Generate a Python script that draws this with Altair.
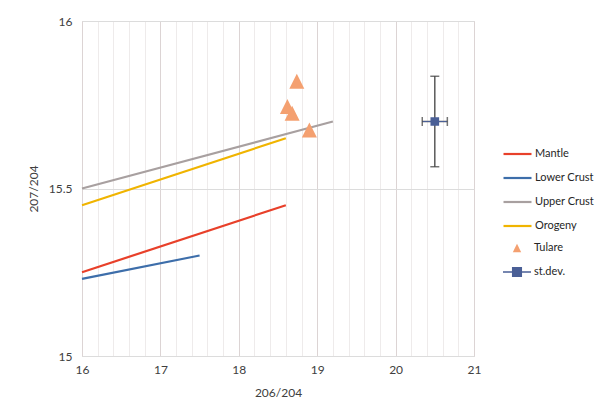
import altair as alt
import pandas as pd

# ---- data ----
line_series = ["Mantle", "Lower Crust", "Upper Crust", "Orogeny"]
line_colors = ["#e8402a", "#3d6eaa", "#a8a0a0", "#f0b400"]
line_x_start = [16.0, 16.0, 16.0, 16.0]
line_y_start = [15.25, 15.23, 15.50, 15.45]
line_x_end = [18.60, 17.50, 19.20, 18.60]
line_y_end = [15.45, 15.30, 15.70, 15.65]

tulare_x = [18.74, 18.62, 18.68, 18.90]
tulare_y = [15.82, 15.745, 15.725, 15.675]

stdev_x = [20.50]
stdev_y = [15.70]
stdev_xerr = [0.16]
stdev_yerr = [0.135]

point_series = ["Tulare", "st.dev."]
point_colors = ["#f4a070", "#4a5f96"]

x_ticks = [round(16 + 0.2 * i, 1) for i in range(26)]
y_ticks = [15, 15.5, 16]

# ---- tables ----
rows = []
for s, x0, y0, x1, y1 in zip(line_series, line_x_start, line_y_start, line_x_end, line_y_end):
    rows.append({"series": s, "x": x0, "y": y0})
    rows.append({"series": s, "x": x1, "y": y1})
lines_df = pd.DataFrame(rows)

tul_df = pd.DataFrame({"series": "Tulare", "x": tulare_x, "y": tulare_y})
std_df = pd.DataFrame({"series": "st.dev.", "x": stdev_x, "y": stdev_y})

err_df = pd.DataFrame({
    "x": stdev_x, "y": stdev_y,
    "xlo": [x - e for x, e in zip(stdev_x, stdev_xerr)],
    "xhi": [x + e for x, e in zip(stdev_x, stdev_xerr)],
    "ylo": [y - e for y, e in zip(stdev_y, stdev_yerr)],
    "yhi": [y + e for y, e in zip(stdev_y, stdev_yerr)],
})

FONT = "Lato"
TXT = "#404040"

xscale = alt.Scale(domain=[16, 21], nice=False, zero=False)
yscale = alt.Scale(domain=[15, 16], nice=False, zero=False)

is_int = "abs(datum.value - round(datum.value)) < 0.001"
xaxis = alt.Axis(
    values=x_ticks, tickCount=len(x_ticks) + 5, title="206/204", grid=True, ticks=False, tickSize=0,
    domain=False, labelOverlap=False, labelFlush=False, labelBound=False,
    labelExpr=f"{is_int} ? ('' + round(datum.value)) : ''",
    gridColor={"condition": {"test": is_int, "value": "#dcd4d4"}, "value": "#eeebeb"},
    labelPadding=8, titlePadding=12, labelFontSize=12, titleFontSize=12,
    labelColor=TXT, titleColor=TXT, titleFontWeight="normal", labelFont=FONT, titleFont=FONT,
)
yaxis = alt.Axis(
    values=y_ticks, title="207/204", grid=True, gridColor="#dcdcdc", ticks=False, tickSize=0,
    domain=False, labelPadding=10, titlePadding=8, labelFontSize=12, titleFontSize=12,
    labelExpr="'' + datum.value", labelFlush=False, labelBound=False, labelOverlap=False,
    labelColor=TXT, titleColor=TXT, titleFontWeight="normal", labelFont=FONT, titleFont=FONT,
)

legend_common = dict(
    title=None, orient="none", padding=0, labelFont=FONT, labelFontSize=11,
    labelColor="#262626", symbolSize=784, clipHeight=14, rowPadding=10, labelOffset=2,
)

lines = alt.Chart(lines_df).mark_line(strokeWidth=2.2).encode(
    x=alt.X("x:Q", scale=xscale, axis=xaxis),
    y=alt.Y("y:Q", scale=yscale, axis=yaxis),
    stroke=alt.Stroke(
        "series:N",
        scale=alt.Scale(domain=line_series, range=line_colors),
        sort=line_series,
        legend=alt.Legend(symbolType="stroke", symbolStrokeWidth=2.2,
                          legendX=420, legendY=126, **legend_common),
    ),
    detail="series:N",
)

vbar = alt.Chart(err_df).mark_rule(color="#5a5a5a", strokeWidth=1.5).encode(
    x="x:Q", y="ylo:Q", y2="yhi:Q")
hbar = alt.Chart(err_df).mark_rule(color="#5a5a5a", strokeWidth=1.5).encode(
    x="xlo:Q", x2="xhi:Q", y="y:Q")
vcap_lo = alt.Chart(err_df).mark_tick(color="#3a3a3a", orient="horizontal", size=9, thickness=1.5).encode(
    x="x:Q", y="ylo:Q")
vcap_hi = alt.Chart(err_df).mark_tick(color="#3a3a3a", orient="horizontal", size=9, thickness=1.5).encode(
    x="x:Q", y="yhi:Q")
hcap_lo = alt.Chart(err_df).mark_tick(color="#3a3a3a", orient="vertical", size=9, thickness=1.5).encode(
    x="xlo:Q", y="y:Q")
hcap_hi = alt.Chart(err_df).mark_tick(color="#3a3a3a", orient="vertical", size=9, thickness=1.5).encode(
    x="xhi:Q", y="y:Q")

tri_path = "M0,-0.3L0.3,0.3L-0.3,0.3Z"
std_path = "M-1,-0.05L1,-0.05L1,0.05L-1,0.05Z M-0.36,-0.36L0.36,-0.36L0.36,0.36L-0.36,0.36Z"

pt_legend = alt.Legend(legendX=420, legendY=220, **legend_common)
pt_color = alt.Color("series:N", scale=alt.Scale(domain=point_series, range=point_colors),
                     sort=point_series, legend=pt_legend)
pt_shape = alt.Shape("series:N", scale=alt.Scale(domain=point_series, range=[tri_path, std_path]),
                     sort=point_series, legend=pt_legend)

tul_pts = alt.Chart(tul_df).mark_point(filled=True, opacity=1, size=2500).encode(
    x="x:Q", y="y:Q", color=pt_color, shape=pt_shape)
std_pts = alt.Chart(std_df).mark_point(filled=True, opacity=1, size=576).encode(
    x="x:Q", y="y:Q", color=pt_color, shape=pt_shape)

chart = alt.layer(lines, vbar, hbar, vcap_lo, vcap_hi, hcap_lo, hcap_hi, tul_pts, std_pts).properties(
    width=392, height=335,
    autosize=alt.AutoSizeParams(type="none"),
    padding={"left": 74, "top": 13, "right": 123, "bottom": 48},
).resolve_legend(stroke="independent").configure_view(stroke="#d4cccc", strokeWidth=1)

chart.save("out.html", embed_options={"renderer": "svg", "actions": False})
